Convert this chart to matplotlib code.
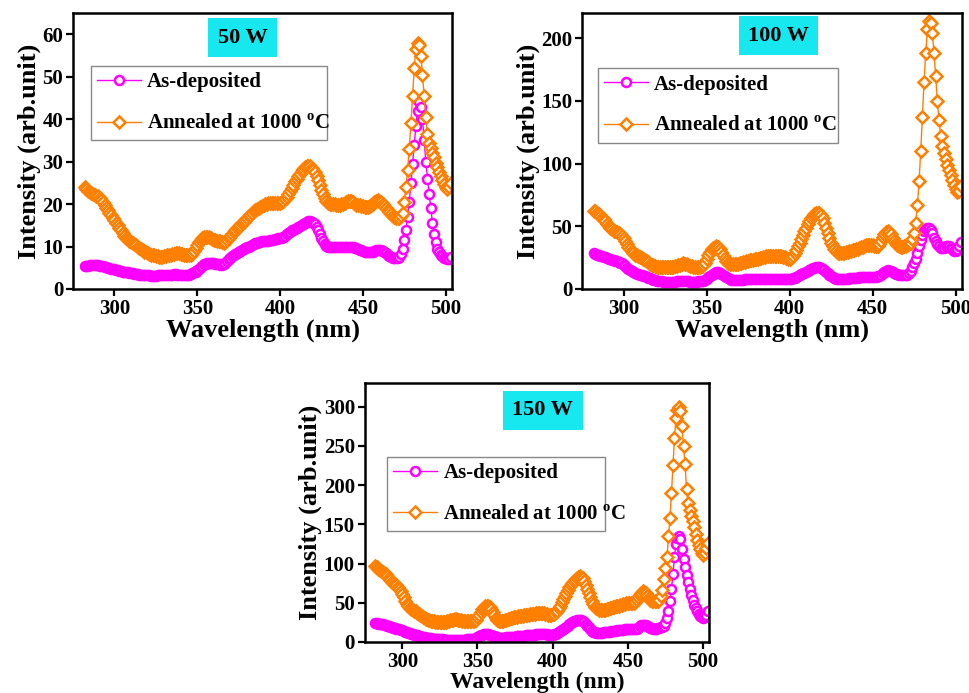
import matplotlib
matplotlib.use("Agg")
import matplotlib.pyplot as plt
import numpy as np

plt.rcParams["font.family"] = "Liberation Serif"
plt.rcParams["font.weight"] = "bold"
plt.rcParams["mathtext.fontset"] = "custom"
plt.rcParams["mathtext.rm"] = "Liberation Serif:bold"

# measurement grid (1 nm step)
wavelength = np.arange(282, 504)

as_dep_50 = [
    5.4, 5.5, 5.5, 5.6, 5.6, 5.7, 5.7, 5.7, 5.6, 5.5,
    5.4, 5.3, 5.2, 5.2, 5.0, 4.9, 4.8, 4.7, 4.6, 4.5,
    4.4, 4.3, 4.2, 4.1, 4.0, 4.0, 3.9, 3.8, 3.8, 3.7,
    3.6, 3.6, 3.5, 3.4, 3.4, 3.3, 3.3, 3.2, 3.2, 3.2,
    3.1, 3.1, 3.1, 3.1, 3.2, 3.2, 3.2, 3.2, 3.3, 3.3,
    3.3, 3.4, 3.4, 3.4, 3.5, 3.5, 3.4, 3.3, 3.3, 3.4,
    3.4, 3.4, 3.3, 3.4, 3.5, 3.7, 3.9, 4.1, 4.4, 4.7,
    5.1, 5.5, 5.8, 6.0, 6.1, 6.2, 6.2, 6.2, 6.1, 6.0,
    5.9, 5.8, 5.7, 5.7, 5.9, 6.2, 6.6, 7.0, 7.4, 7.7,
    8.0, 8.2, 8.4, 8.7, 8.9, 9.2, 9.4, 9.6, 9.8, 10.0,
    10.2, 10.4, 10.6, 10.8, 10.9, 11.0, 11.1, 11.2, 11.3, 11.3,
    11.4, 11.4, 11.5, 11.5, 11.6, 11.7, 11.8, 11.9, 12.0, 12.1,
    12.3, 12.6, 12.9, 13.2, 13.5, 13.8, 14.0, 14.2, 14.4, 14.6,
    14.8, 15.0, 15.3, 15.6, 15.9, 16.1, 16.1, 15.9, 15.6, 15.2,
    14.6, 13.8, 12.9, 12.0, 11.2, 10.6, 10.2, 10.0, 9.9, 9.9,
    9.9, 9.9, 10.0, 10.0, 10.0, 9.9, 9.9, 9.9, 10.0, 10.0,
    10.0, 9.9, 9.8, 9.7, 9.6, 9.5, 9.3, 9.1, 8.9, 8.8,
    8.7, 8.6, 8.6, 8.6, 8.7, 8.9, 9.1, 9.2, 9.2, 9.1,
    8.9, 8.7, 8.4, 8.1, 7.8, 7.5, 7.3, 7.2, 7.2, 7.3,
    7.6, 8.2, 9.5, 11.5, 14.0, 17.0, 20.5, 25.0, 29.5, 34.0,
    38.5, 42.0, 44.0, 43.0, 40.0, 35.0, 30.0, 26.0, 22.5, 19.0,
    15.5, 13.0, 11.0, 9.5, 8.7, 8.1, 7.7, 7.4, 7.2, 7.0,
    7.1, 7.6,
]
annealed_50 = [
    24.0, 23.6, 23.2, 22.9, 22.6, 22.4, 22.2, 22.0, 21.8, 21.5,
    21.0, 20.4, 19.8, 19.2, 18.6, 18.0, 17.4, 16.8, 16.2, 15.6,
    15.0, 14.4, 13.8, 13.2, 12.6, 12.1, 11.7, 11.4, 11.1, 10.8,
    10.5, 10.3, 10.0, 9.7, 9.4, 9.1, 8.8, 8.6, 8.4, 8.3,
    8.1, 8.0, 7.9, 7.8, 7.7, 7.6, 7.6, 7.6, 7.7, 7.8,
    7.9, 8.0, 8.1, 8.2, 8.3, 8.4, 8.5, 8.4, 8.3, 8.2,
    8.1, 8.0, 8.0, 8.0, 8.1, 8.4, 8.9, 9.6, 10.3, 11.0,
    11.5, 11.9, 12.2, 12.3, 12.3, 12.2, 12.0, 11.8, 11.6, 11.5,
    11.4, 11.3, 11.2, 11.0, 10.9, 11.1, 11.5, 12.0, 12.5, 13.0,
    13.5, 13.9, 14.3, 14.7, 15.1, 15.5, 15.9, 16.3, 16.7, 17.1,
    17.5, 17.9, 18.3, 18.6, 18.9, 19.2, 19.4, 19.6, 19.8, 20.0,
    20.1, 20.2, 20.2, 20.2, 20.2, 20.2, 20.2, 20.2, 20.3, 20.5,
    20.8, 21.2, 21.7, 22.3, 23.0, 23.8, 24.6, 25.4, 26.0, 26.6,
    27.2, 27.8, 28.3, 28.7, 28.9, 29.0, 28.9, 28.6, 28.1, 27.5,
    26.6, 25.6, 24.4, 23.3, 22.3, 21.4, 20.7, 20.3, 20.1, 20.0,
    20.0, 20.0, 19.9, 19.9, 19.9, 20.0, 20.1, 20.3, 20.5, 20.7,
    20.8, 20.7, 20.4, 20.1, 19.9, 19.8, 19.7, 19.6, 19.5, 19.4,
    19.4, 19.4, 19.5, 19.7, 20.0, 20.4, 20.8, 21.0, 20.8, 20.4,
    20.0, 19.5, 19.0, 18.5, 18.1, 17.7, 17.3, 17.0, 16.8, 16.7,
    16.8, 17.2, 18.0, 20.5, 24.0, 28.0, 33.0, 39.0, 45.5, 52.0,
    56.5, 58.0, 57.5, 55.0, 50.5, 45.5, 40.5, 36.5, 34.5, 33.2,
    32.0, 31.0, 29.8, 28.7, 27.6, 26.6, 25.6, 24.8, 24.0, 23.6,
    24.0, 25.0,
]

as_dep_100 = [
    28.5, 28.0, 27.5, 27.0, 26.6, 26.2, 25.8, 25.3, 24.8, 24.3,
    23.8, 23.2, 22.8, 22.5, 22.0, 21.5, 21.0, 20.5, 19.5, 18.3,
    17.0, 15.8, 14.8, 14.0, 13.4, 12.8, 12.3, 11.8, 11.4, 11.0,
    10.6, 10.2, 9.7, 9.1, 8.5, 7.9, 7.4, 7.0, 6.7, 6.4,
    6.2, 6.0, 5.9, 5.8, 5.7, 5.7, 5.7, 5.8, 5.8, 5.9,
    6.0, 6.1, 6.1, 6.0, 6.0, 6.0, 6.0, 6.0, 5.9, 5.8,
    5.8, 5.8, 5.9, 6.0, 6.1, 6.3, 6.7, 7.4, 8.3, 9.3,
    10.4, 11.4, 12.3, 13.0, 13.4, 13.4, 13.0, 12.2, 11.2, 10.2,
    9.3, 8.5, 7.9, 7.5, 7.3, 7.2, 7.2, 7.2, 7.3, 7.4,
    7.5, 7.6, 7.6, 7.6, 7.6, 7.6, 7.7, 7.7, 7.8, 7.8,
    7.9, 7.9, 8.0, 8.0, 8.1, 8.1, 8.2, 8.2, 8.2, 8.2,
    8.2, 8.1, 8.1, 8.0, 7.9, 7.8, 7.8, 7.8, 7.9, 8.1,
    8.5, 9.0, 9.6, 10.3, 11.0, 11.7, 12.4, 13.1, 13.8, 14.5,
    15.2, 15.8, 16.4, 16.9, 17.3, 17.5, 17.4, 17.0, 16.2, 15.1,
    13.8, 12.5, 11.2, 10.1, 9.2, 8.6, 8.2, 8.0, 7.9, 7.9,
    8.0, 8.1, 8.2, 8.3, 8.4, 8.5, 8.6, 8.8, 8.9, 9.0,
    9.2, 9.3, 9.4, 9.5, 9.6, 9.6, 9.6, 9.6, 9.6, 9.6,
    9.7, 10.0, 10.6, 11.5, 12.6, 13.6, 14.4, 14.8, 14.7, 14.2,
    13.5, 12.8, 12.2, 11.7, 11.3, 11.1, 11.0, 11.0, 11.2, 11.5,
    12.5, 14.5, 17.5, 20.5, 24.0, 29.0, 34.0, 39.0, 43.0, 46.0,
    48.0, 49.0, 48.5, 47.0, 44.5, 41.0, 38.0, 36.0, 34.5, 33.0,
    32.5, 33.0, 34.0, 34.5, 34.0, 33.0, 31.5, 30.5, 30.0, 31.5,
    34.5, 37.5,
]
annealed_100 = [
    62.5, 62.0, 61.0, 60.0, 58.5, 57.0, 55.5, 54.0, 52.0, 50.0,
    48.5, 47.5, 46.5, 46.0, 45.5, 45.0, 44.0, 42.5, 40.5, 38.0,
    35.5, 33.5, 31.5, 30.0, 28.5, 27.5, 26.8, 26.2, 25.6, 25.0,
    24.2, 23.3, 22.3, 21.3, 20.3, 19.5, 18.8, 18.2, 17.8, 17.5,
    17.4, 17.3, 17.3, 17.3, 17.4, 17.5, 17.6, 17.7, 17.8, 18.0,
    18.3, 18.8, 19.4, 20.0, 20.4, 20.3, 19.8, 19.2, 18.6, 18.2,
    17.9, 17.7, 17.6, 17.5, 17.6, 18.0, 19.0, 21.0, 24.0, 27.0,
    29.5, 31.5, 33.0, 33.8, 34.0, 33.5, 32.0, 29.8, 27.0, 24.5,
    22.5, 21.0, 20.2, 19.8, 19.7, 19.8, 20.0, 20.3, 20.6, 21.0,
    21.3, 21.7, 22.0, 22.4, 22.8, 23.1, 23.4, 23.7, 24.0, 24.3,
    24.6, 25.0, 25.4, 25.8, 26.2, 26.5, 26.6, 26.6, 26.5, 26.3,
    26.2, 26.1, 26.1, 26.0, 25.7, 25.2, 24.6, 24.2, 24.0, 24.8,
    26.3, 28.5, 31.0, 34.0, 37.0, 40.0, 43.0, 46.0, 49.0, 52.0,
    54.5, 56.7, 58.5, 59.8, 60.6, 60.8, 60.3, 59.0, 56.5, 53.0,
    49.0, 44.5, 40.5, 37.0, 34.0, 31.5, 30.0, 29.0, 28.6, 28.5,
    28.6, 28.8, 29.1, 29.5, 29.9, 30.3, 30.7, 31.2, 31.7, 32.2,
    32.7, 33.2, 33.7, 34.2, 34.7, 35.0, 35.2, 35.2, 35.0, 34.6,
    34.2, 34.5, 36.0, 38.5, 41.5, 44.0, 45.5, 46.0, 45.3, 43.5,
    41.0, 38.5, 36.5, 35.0, 34.2, 33.8, 33.8, 34.0, 34.3, 34.8,
    35.5, 37.0, 40.0, 45.0, 53.0, 67.0, 86.0, 110.0, 137.0, 165.0,
    188.0, 207.0, 213.5, 212.0, 204.0, 188.0, 170.0, 150.0, 135.0, 122.0,
    114.0, 108.5, 103.5, 99.0, 95.0, 91.0, 87.0, 83.0, 79.5, 77.0,
    78.0, 82.0,
]

as_dep_150 = [
    24.0, 23.8, 23.5, 23.2, 22.8, 22.3, 21.8, 21.2, 20.6, 20.0,
    19.4, 18.8, 18.2, 17.6, 17.0, 16.5, 16.0, 15.5, 14.8, 14.0,
    13.2, 12.4, 11.7, 11.0, 10.5, 10.0, 9.5, 9.0, 8.5, 8.0,
    7.5, 7.0, 6.5, 6.0, 5.6, 5.2, 4.8, 4.5, 4.2, 4.0,
    3.8, 3.6, 3.5, 3.4, 3.3, 3.2, 3.1, 3.1, 3.0, 3.0,
    3.0, 3.0, 3.0, 3.0, 3.0, 3.0, 3.0, 3.0, 3.0, 3.1,
    3.1, 3.2, 3.2, 3.3, 3.4, 3.6, 4.0, 4.8, 6.0, 7.2,
    8.3, 9.2, 9.8, 10.0, 10.0, 9.8, 9.4, 8.8, 8.0, 7.2,
    6.5, 5.9, 5.5, 5.3, 5.3, 5.4, 5.6, 5.8, 6.0, 6.2,
    6.4, 6.6, 6.8, 7.0, 7.2, 7.4, 7.6, 7.8, 8.0, 8.2,
    8.4, 8.6, 8.8, 9.0, 9.2, 9.4, 9.5, 9.6, 9.7, 9.8,
    9.9, 9.9, 9.9, 9.8, 9.6, 9.3, 9.1, 9.1, 9.3, 9.7,
    10.4, 11.4, 12.6, 14.0, 15.4, 16.8, 18.2, 19.6, 21.0, 22.4,
    23.8, 25.0, 26.2, 27.2, 28.0, 28.5, 28.6, 28.2, 27.2, 25.5,
    23.4, 21.0, 18.6, 16.4, 14.6, 13.2, 12.3, 11.8, 11.6, 11.6,
    11.7, 11.9, 12.1, 12.3, 12.6, 12.9, 13.2, 13.5, 13.8, 14.1,
    14.4, 14.7, 15.0, 15.3, 15.6, 15.9, 16.1, 16.3, 16.4, 16.4,
    16.3, 16.1, 16.0, 16.2, 16.9, 18.2, 19.8, 21.2, 22.0, 22.0,
    21.3, 20.2, 19.0, 18.0, 17.3, 17.0, 16.9, 17.0, 17.3, 17.8,
    18.5, 19.5, 21.0, 24.0, 30.0, 40.0, 52.0, 67.0, 87.0, 108.0,
    125.0, 133.0, 135.0, 131.0, 119.0, 106.0, 95.0, 85.0, 76.0, 68.0,
    60.0, 53.0, 47.0, 43.0, 39.0, 35.5, 33.0, 31.5, 31.0, 32.0,
    35.0, 39.0,
]
annealed_150 = [
    97.0, 95.5, 93.5, 91.5, 90.0, 89.0, 88.0, 86.5, 84.5, 82.0,
    79.5, 77.0, 75.0, 73.5, 72.0, 70.0, 67.5, 64.5, 61.0, 57.0,
    52.5, 48.5, 45.5, 43.5, 42.0, 41.0, 40.0, 39.0, 37.5, 36.0,
    34.5, 33.0, 31.5, 30.3, 29.3, 28.5, 27.8, 27.2, 26.7, 26.3,
    26.0, 25.8, 25.6, 25.5, 25.4, 25.4, 25.5, 25.8, 26.3, 26.8,
    27.4, 28.0, 28.5, 28.8, 28.8, 28.5, 28.0, 27.4, 26.9, 26.5,
    26.3, 26.2, 26.2, 26.2, 26.2, 26.3, 26.8, 28.5, 31.5, 35.0,
    38.5, 41.5, 43.8, 45.3, 46.0, 45.8, 44.5, 42.0, 38.5, 34.5,
    31.0, 28.5, 27.0, 26.5, 26.5, 27.0, 27.6, 28.3, 29.0, 29.7,
    30.3, 30.9, 31.5, 32.0, 32.4, 32.8, 33.1, 33.4, 33.7, 34.0,
    34.3, 34.6, 34.9, 35.2, 35.5, 35.8, 36.1, 36.4, 36.7, 37.0,
    37.0, 36.8, 36.4, 35.9, 35.4, 35.0, 34.8, 34.8, 35.2, 36.2,
    37.8, 40.0, 43.0, 46.5, 50.5, 54.5, 58.5, 62.5, 66.5, 70.0,
    73.0, 75.5, 77.5, 79.5, 81.5, 83.0, 83.5, 83.0, 81.0, 77.5,
    73.0, 68.0, 62.5, 57.0, 52.0, 48.0, 45.0, 43.0, 41.8, 41.0,
    40.8, 40.8, 41.0, 41.4, 41.9, 42.4, 42.9, 43.5, 44.1, 44.7,
    45.3, 45.9, 46.5, 47.1, 47.7, 48.3, 48.8, 49.2, 49.5, 49.7,
    49.7, 49.6, 49.8, 51.0, 53.5, 57.0, 60.5, 63.0, 64.5, 64.0,
    62.0, 59.0, 56.0, 53.8, 52.5, 52.0, 52.0, 52.2, 52.6, 53.5,
    58.0, 66.0, 80.0, 94.0, 108.0, 135.0, 158.0, 190.0, 226.0, 260.0,
    285.0, 296.0, 300.0, 294.0, 275.0, 250.0, 227.0, 195.0, 177.0, 168.0,
    161.0, 154.0, 146.0, 138.0, 130.0, 124.0, 119.0, 114.0, 111.0, 114.0,
    120.0, 126.0,
]

panels = [
    # label, as-deposited, annealed, ylim, ystep, axes rect, title xy, legend rect, xlabel size
    ("50 W", as_dep_50, annealed_50, 65, 10,
     [0.0753, 0.583, 0.391, 0.398], (0.447, 0.911), (0.047, 0.551, 0.623, 0.257), 19),
    ("100 W", as_dep_100, annealed_100, 220, 50,
     [0.600, 0.583, 0.392, 0.398], (0.517, 0.919), (0.041, 0.543, 0.632, 0.257), 19),
    ("150 W", as_dep_150, annealed_150, 330, 50,
     [0.376, 0.0736, 0.355, 0.3737], (0.517, 0.895), (0.065, 0.465, 0.633, 0.251), 17),
]

MAGENTA = "#ff00ff"
ORANGE = "#ff8000"

fig = plt.figure(figsize=(9.7, 6.93), dpi=100)
for label, dep, ann, ytop, ystep, rect, tpos, lrect, xsize in panels:
    assert len(dep) == len(wavelength) and len(ann) == len(wavelength)
    ax = fig.add_axes(rect)
    ax.plot(wavelength, dep, "-o", color=MAGENTA, lw=1.0, ms=6.5, mew=1.8,
            mfc="white", mec=MAGENTA, label="As-deposited")
    ax.plot(wavelength, ann, "-D", color=ORANGE, lw=1.0, ms=6.5, mew=1.8,
            mfc="white", mec=ORANGE, label=r"Annealed at 1000 $^\mathrm{o}$C")
    ax.set_xlim(275, 504)
    ax.set_ylim(0, ytop)
    ax.set_xticks([300, 350, 400, 450, 500])
    ax.set_yticks(np.arange(0, ytop, ystep))
    ax.tick_params(direction="out", length=5, width=1.6, labelsize=15, pad=2)
    for sp in ax.spines.values():
        sp.set_linewidth(1.8)
    ax.set_xlabel("Wavelength (nm)", fontsize=xsize, fontweight="bold", labelpad=0)
    ax.set_ylabel("Intensity (arb.unit)", fontsize=19, fontweight="bold", labelpad=1)
    ax.text(tpos[0], tpos[1], label, transform=ax.transAxes, ha="center",
            va="center", fontsize=16, fontweight="bold",
            bbox=dict(boxstyle="square,pad=0.42", facecolor="#17e8ef",
                      edgecolor="none"))
    leg = ax.legend(loc="upper left", bbox_to_anchor=lrect, mode="expand",
                    borderaxespad=0, fontsize=15, frameon=True, fancybox=False,
                    framealpha=1, edgecolor="#888888", handlelength=2.1,
                    borderpad=0.3, labelspacing=1.05, handletextpad=0.3)
    leg.get_frame().set_linewidth(1.0)

fig.savefig("out.png", dpi=100)
